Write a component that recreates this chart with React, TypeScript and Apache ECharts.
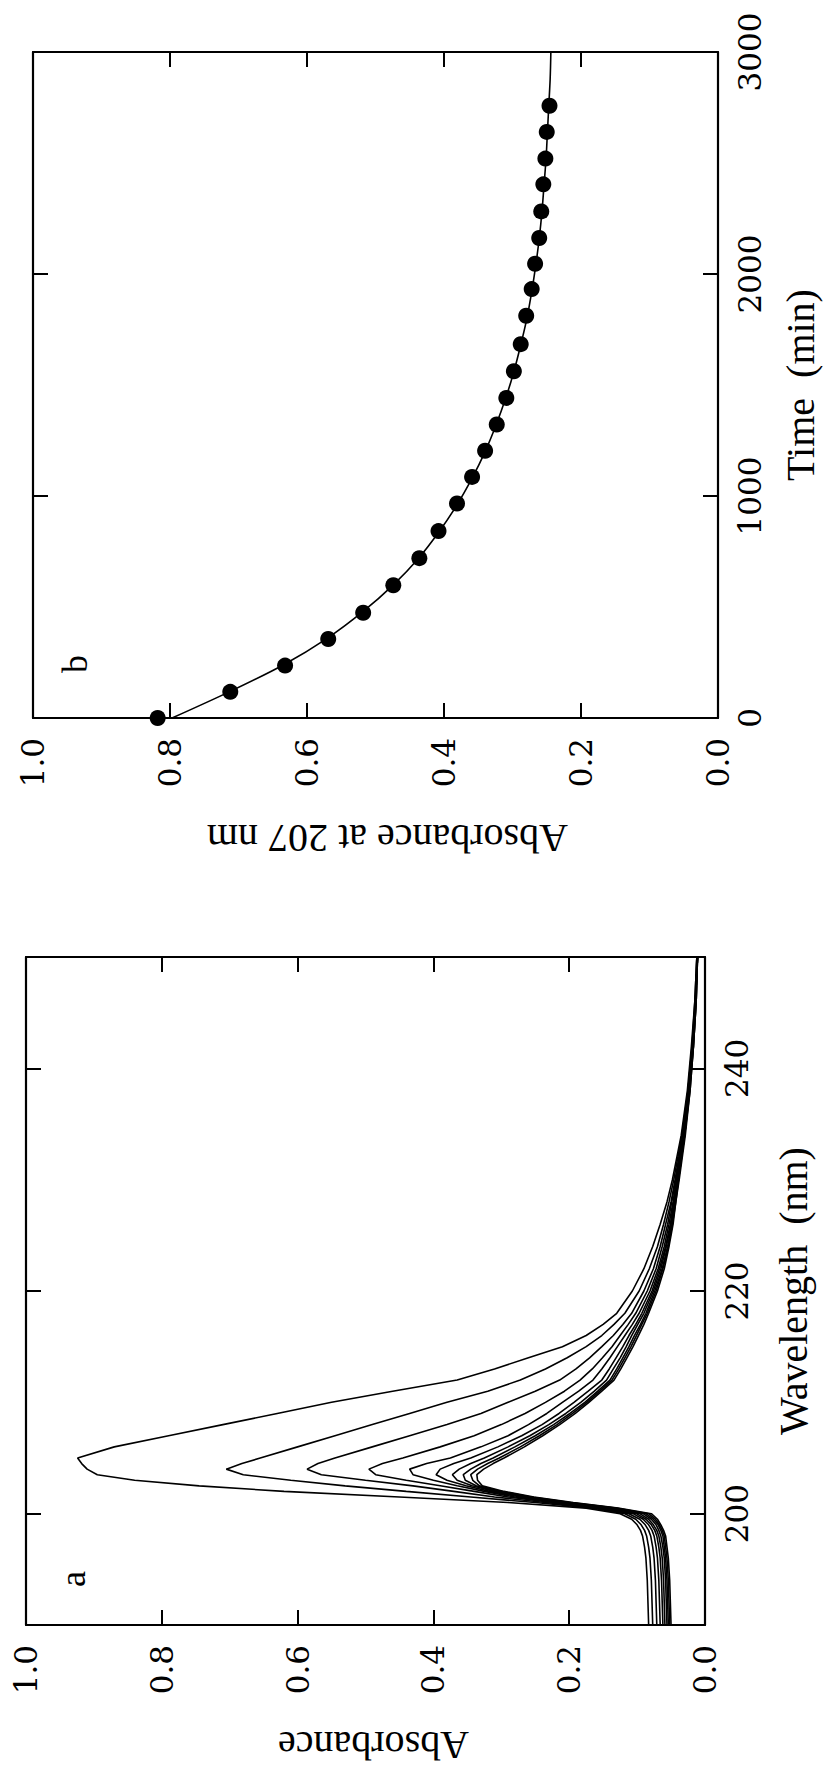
import React, { useEffect, useRef } from 'react';
import * as echarts from 'echarts';

// ---------- Panel a: spectra ----------
const wavelengths = [190, 192, 194, 196, 197, 198, 198.5, 199, 199.5, 200, 200.5, 201, 201.5, 202, 202.5, 203, 203.5, 204, 204.5, 205, 206, 207, 208, 209, 210, 211, 212, 213, 214, 215, 216, 217, 218, 220, 222, 224, 226, 228, 230, 234, 238, 242, 246, 250];
const wavelengthTicks = [200, 220, 240];

const spectrum1 = [0.083, 0.084, 0.085, 0.087, 0.089, 0.092, 0.095, 0.100, 0.108, 0.125, 0.175, 0.290, 0.450, 0.620, 0.745, 0.840, 0.895, 0.910, 0.918, 0.924, 0.870, 0.790, 0.710, 0.630, 0.550, 0.460, 0.365, 0.310, 0.260, 0.210, 0.175, 0.150, 0.130, 0.107, 0.090, 0.077, 0.066, 0.056, 0.048, 0.035, 0.026, 0.020, 0.015, 0.012];
const spectrum2 = [0.077, 0.078, 0.079, 0.081, 0.083, 0.086, 0.089, 0.094, 0.102, 0.118, 0.165, 0.250, 0.345, 0.440, 0.530, 0.610, 0.680, 0.705, 0.682, 0.655, 0.600, 0.545, 0.490, 0.435, 0.380, 0.320, 0.272, 0.235, 0.203, 0.175, 0.152, 0.134, 0.118, 0.097, 0.082, 0.070, 0.061, 0.053, 0.046, 0.034, 0.025, 0.019, 0.015, 0.012];
const spectrum3 = [0.071, 0.072, 0.073, 0.075, 0.077, 0.080, 0.083, 0.088, 0.096, 0.112, 0.158, 0.235, 0.310, 0.370, 0.430, 0.500, 0.565, 0.586, 0.570, 0.545, 0.490, 0.435, 0.380, 0.330, 0.290, 0.250, 0.214, 0.190, 0.170, 0.152, 0.135, 0.121, 0.108, 0.090, 0.076, 0.066, 0.058, 0.050, 0.044, 0.033, 0.025, 0.019, 0.014, 0.012];
const spectrum4 = [0.066, 0.067, 0.068, 0.070, 0.072, 0.075, 0.078, 0.083, 0.091, 0.106, 0.152, 0.225, 0.290, 0.340, 0.390, 0.440, 0.485, 0.495, 0.475, 0.445, 0.390, 0.340, 0.300, 0.265, 0.235, 0.207, 0.184, 0.166, 0.151, 0.137, 0.125, 0.113, 0.102, 0.085, 0.072, 0.063, 0.055, 0.049, 0.043, 0.032, 0.024, 0.018, 0.014, 0.011];
const spectrum5 = [0.062, 0.063, 0.064, 0.066, 0.068, 0.071, 0.074, 0.079, 0.087, 0.101, 0.147, 0.218, 0.280, 0.325, 0.365, 0.400, 0.430, 0.435, 0.410, 0.375, 0.330, 0.290, 0.260, 0.233, 0.210, 0.186, 0.165, 0.152, 0.140, 0.129, 0.118, 0.107, 0.097, 0.081, 0.069, 0.060, 0.053, 0.047, 0.042, 0.031, 0.024, 0.018, 0.014, 0.011];
const spectrum6 = [0.059, 0.060, 0.061, 0.063, 0.065, 0.068, 0.071, 0.076, 0.083, 0.096, 0.142, 0.212, 0.272, 0.317, 0.352, 0.380, 0.396, 0.390, 0.370, 0.345, 0.305, 0.270, 0.240, 0.215, 0.193, 0.172, 0.152, 0.141, 0.131, 0.121, 0.112, 0.102, 0.093, 0.078, 0.067, 0.058, 0.051, 0.046, 0.041, 0.031, 0.023, 0.018, 0.014, 0.011];
const spectrum7 = [0.056, 0.057, 0.058, 0.060, 0.062, 0.065, 0.068, 0.072, 0.079, 0.091, 0.138, 0.207, 0.265, 0.310, 0.343, 0.365, 0.372, 0.362, 0.345, 0.325, 0.290, 0.258, 0.230, 0.205, 0.183, 0.163, 0.145, 0.135, 0.125, 0.116, 0.108, 0.099, 0.090, 0.076, 0.065, 0.057, 0.050, 0.045, 0.040, 0.030, 0.023, 0.018, 0.014, 0.011];
const spectrum8 = [0.054, 0.055, 0.056, 0.058, 0.060, 0.062, 0.065, 0.069, 0.076, 0.087, 0.134, 0.202, 0.260, 0.305, 0.337, 0.353, 0.356, 0.345, 0.330, 0.312, 0.280, 0.250, 0.223, 0.199, 0.177, 0.158, 0.140, 0.130, 0.121, 0.112, 0.104, 0.095, 0.087, 0.074, 0.063, 0.055, 0.049, 0.044, 0.039, 0.030, 0.023, 0.017, 0.013, 0.011];
const spectrum9 = [0.052, 0.053, 0.054, 0.056, 0.058, 0.060, 0.063, 0.067, 0.073, 0.083, 0.131, 0.198, 0.256, 0.300, 0.332, 0.342, 0.345, 0.335, 0.320, 0.303, 0.272, 0.244, 0.218, 0.195, 0.174, 0.155, 0.137, 0.127, 0.118, 0.109, 0.101, 0.093, 0.085, 0.072, 0.062, 0.054, 0.048, 0.043, 0.039, 0.030, 0.022, 0.017, 0.013, 0.011];
const spectrum10 = [0.050, 0.051, 0.052, 0.054, 0.056, 0.058, 0.061, 0.065, 0.070, 0.079, 0.128, 0.194, 0.252, 0.296, 0.328, 0.335, 0.336, 0.326, 0.312, 0.296, 0.266, 0.239, 0.214, 0.191, 0.171, 0.152, 0.134, 0.124, 0.115, 0.106, 0.098, 0.090, 0.083, 0.070, 0.060, 0.053, 0.047, 0.043, 0.038, 0.029, 0.022, 0.017, 0.013, 0.011];
const spectra = [spectrum1, spectrum2, spectrum3, spectrum4, spectrum5, spectrum6, spectrum7, spectrum8, spectrum9, spectrum10];

// ---------- Panel b: absorbance at 207 nm vs time ----------
const times = [0, 118, 236, 356, 474, 598, 720, 842, 966, 1086, 1204, 1322, 1442, 1562, 1684, 1812, 1932, 2046, 2162, 2282, 2404, 2520, 2640, 2758];
const abs207 = [0.818, 0.712, 0.632, 0.569, 0.518, 0.474, 0.436, 0.408, 0.381, 0.359, 0.340, 0.323, 0.309, 0.298, 0.288, 0.280, 0.272, 0.267, 0.261, 0.258, 0.255, 0.252, 0.250, 0.246];
const fitTimes = [0, 120, 240, 360, 480, 600, 720, 840, 960, 1080, 1200, 1320, 1440, 1560, 1680, 1800, 1920, 2040, 2160, 2280, 2400, 2520, 2640, 2760, 2880, 3000];
const fitAbs = [0.797, 0.712, 0.634, 0.570, 0.518, 0.474, 0.437, 0.407, 0.381, 0.359, 0.340, 0.324, 0.310, 0.298, 0.288, 0.279, 0.272, 0.266, 0.261, 0.257, 0.254, 0.251, 0.249, 0.247, 0.245, 0.244];

const absTicks = { min: 0, max: 1, interval: 0.2 };
const timeTicks = { min: 0, max: 3000, interval: 1000 };
const wlRange = { min: 190, max: 250 };

const W = 826;
const H = 1769;

const axisLine = { show: true, onZero: false, lineStyle: { color: '#000', width: 2.2 } };
const axisTick = { show: true, inside: true, length: 15, lineStyle: { color: '#000', width: 2 } };
const tickFont = { fontFamily: 'DejaVu Serif', fontSize: 31, color: '#000' };
const titleFont = { fontFamily: 'Liberation Serif', fontSize: 40, color: '#000', lineHeight: 30 };
const noSplit = { show: false };

function buildOption() {
  const xAxis = [
    {
      gridIndex: 0, type: 'value', position: 'bottom', inverse: true, ...absTicks,
      axisLine, axisTick, splitLine: noSplit,
      axisLabel: { ...tickFont, rotate: 90, margin: 20, showMinLabel: true, showMaxLabel: true, formatter: (v: number) => v.toFixed(1) },
      name: 'Absorbance at 207 nm', nameLocation: 'middle', nameGap: 105, nameRotate: 180,
      nameTextStyle: { ...titleFont, padding: [0, 24, 0, 0] },
    },
    {
      gridIndex: 0, type: 'value', position: 'top', inverse: true, ...absTicks,
      axisLine, axisTick, splitLine: noSplit, axisLabel: { show: false },
    },
    {
      gridIndex: 1, type: 'value', position: 'bottom', inverse: true, ...absTicks,
      axisLine, axisTick, splitLine: noSplit,
      axisLabel: { ...tickFont, rotate: 90, margin: 20, showMinLabel: true, showMaxLabel: true, formatter: (v: number) => v.toFixed(1) },
      name: 'Absorbance', nameLocation: 'middle', nameGap: 105, nameRotate: 180,
      nameTextStyle: { ...titleFont, padding: [0, 16, 0, 0] },
    },
    {
      gridIndex: 1, type: 'value', position: 'top', inverse: true, ...absTicks,
      axisLine, axisTick, splitLine: noSplit, axisLabel: { show: false },
    },
  ];
  const yAxis = [
    {
      gridIndex: 0, type: 'value', position: 'right', ...timeTicks,
      axisLine, axisTick, splitLine: noSplit,
      axisLabel: { ...tickFont, rotate: 90, margin: 16, showMinLabel: true, showMaxLabel: true, formatter: (v: number) => String(v) },
      name: 'Time  (min)', nameLocation: 'middle', nameGap: 67, nameRotate: 90, nameTextStyle: titleFont,
    },
    {
      gridIndex: 0, type: 'value', position: 'left', ...timeTicks,
      axisLine, axisTick, splitLine: noSplit, axisLabel: { show: false },
    },
    {
      gridIndex: 1, type: 'value', position: 'right', ...wlRange,
      axisLine, axisTick: { ...axisTick, customValues: wavelengthTicks }, splitLine: noSplit,
      axisLabel: { ...tickFont, rotate: 90, margin: 16, customValues: wavelengthTicks, formatter: (v: number) => String(v) },
      name: 'Wavelength  (nm)', nameLocation: 'middle', nameGap: 73, nameRotate: 90, nameTextStyle: titleFont,
    },
    {
      gridIndex: 1, type: 'value', position: 'left', ...wlRange,
      axisLine, axisTick: { ...axisTick, customValues: wavelengthTicks }, splitLine: noSplit, axisLabel: { show: false },
    },
  ];

  const spectraSeries = spectra.map((spec, k) => ({
    name: 'spectrum ' + (k + 1),
    type: 'line',
    xAxisIndex: 2,
    yAxisIndex: 2,
    showSymbol: false,
    smooth: false,
    lineStyle: { color: '#000', width: 1.6 },
    data: wavelengths.map((w, i) => [spec[i], w]),
  }));

  return {
    animation: false,
    backgroundColor: '#fff',
    grid: [
      { left: 33, top: 52, width: 685, height: 666, containLabel: false, outerBoundsMode: 'none' },
      { left: 26, top: 957, width: 679, height: 668, containLabel: false, outerBoundsMode: 'none' },
    ],
    xAxis,
    yAxis,
    series: [
      {
        name: 'fit', type: 'line', xAxisIndex: 0, yAxisIndex: 0, showSymbol: false, smooth: 0.3,
        lineStyle: { color: '#000', width: 1.6 },
        data: fitTimes.map((t, i) => [fitAbs[i], t]),
      },
      {
        name: 'A207', type: 'scatter', xAxisIndex: 0, yAxisIndex: 0, symbol: 'circle', symbolSize: 16,
        itemStyle: { color: '#000', opacity: 1 },
        data: times.map((t, i) => [abs207[i], t]),
      },
      ...spectraSeries,
    ],
    graphic: [
      {
        type: 'text', x: 75, y: 664, rotation: Math.PI / 2,
        style: { text: 'b', font: '36px "Liberation Serif"', fill: '#000', textAlign: 'center', textVerticalAlign: 'middle', align: 'center', verticalAlign: 'middle' },
      },
      {
        type: 'text', x: 73, y: 1579, rotation: Math.PI / 2,
        style: { text: 'a', font: '36px "Liberation Serif"', fill: '#000', textAlign: 'center', textVerticalAlign: 'middle', align: 'center', verticalAlign: 'middle' },
      },
    ],
  };
}

export default function App() {
  const ref = useRef<HTMLDivElement>(null);
  useEffect(() => {
    if (!ref.current) return;
    const chart = echarts.init(ref.current, null, { renderer: 'svg', width: W, height: H });
    chart.setOption(buildOption() as any);
    return () => chart.dispose();
  }, []);
  return (
    <div
      ref={ref}
      style={{ position: 'absolute', left: 0, top: 0, width: W, height: H, background: '#fff' }}
    />
  );
}
